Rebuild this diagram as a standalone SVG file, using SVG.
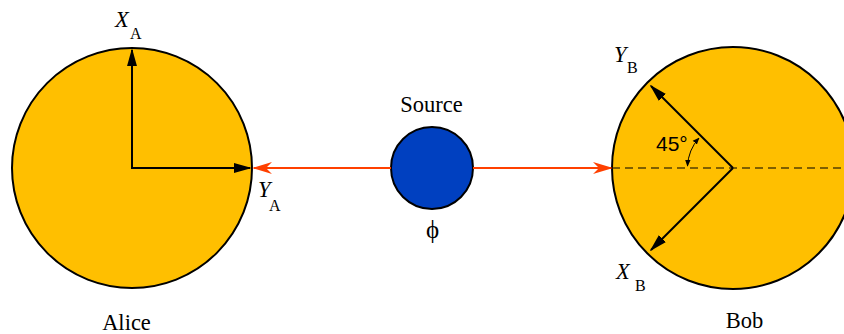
<svg xmlns="http://www.w3.org/2000/svg" width="844" height="334" viewBox="0 0 844 334">
<defs>
<style>
.disk{fill:#FFBF00;stroke:#000;stroke-width:2}
.ax{stroke:#000;stroke-width:2;fill:none}
.beam{stroke:#FF4000;stroke-width:2;fill:none}
text{font-family:'Liberation Serif','Times New Roman',serif;font-size:22.5px;fill:#000}
.i{font-style:italic}
.s{font-size:16px}
.sans{font-family:'Liberation Sans',Arial,sans-serif;font-size:21px}
</style>
<marker id="ah" viewBox="0 0 10 10" refX="9" refY="5" markerWidth="18" markerHeight="10" markerUnits="userSpaceOnUse" orient="auto" preserveAspectRatio="none"><path d="M0,0 L10,5 L0,10 z" fill="#000"/></marker>
<marker id="ar" viewBox="0 0 10 10" refX="9" refY="5" markerWidth="20" markerHeight="12" markerUnits="userSpaceOnUse" orient="auto" preserveAspectRatio="none"><path d="M0,0 L10,5 L0,10 L3,5 z" fill="#FF4000"/></marker>
<marker id="sm" viewBox="0 0 10 10" refX="9" refY="5" markerWidth="7" markerHeight="7" markerUnits="userSpaceOnUse" orient="auto-start-reverse"><path d="M0,1 L10,5 L0,9 z" fill="#000"/></marker>
</defs>
<g id="alice">
<circle class="disk" cx="132" cy="168" r="120"/>
<line class="ax" x1="132" y1="169" x2="132" y2="50" marker-end="url(#ah)"/>
<line class="ax" x1="131" y1="168" x2="250" y2="168" marker-end="url(#ah)"/>
<text class="i" x="115" y="27">X</text>
<text class="s" x="130" y="39">A</text>
<text class="i" x="258" y="197">Y</text>
<text class="s" x="269" y="211">A</text>
<text x="126.5" y="329.5" text-anchor="middle">Alice</text>
</g>
<g id="bob">
<circle class="disk" cx="733" cy="168" r="121"/>
<line x1="612" y1="168" x2="844" y2="168" stroke="#000" stroke-opacity="0.5" stroke-width="2" stroke-dasharray="8,5"/>
<line class="ax" x1="733" y1="168" x2="651" y2="86" marker-end="url(#ah)"/>
<line class="ax" x1="733" y1="168" x2="651" y2="250" marker-end="url(#ah)"/>
<path d="M687.5,166 A45.5,45.5 0 0 1 699,138" fill="none" stroke="#000" stroke-width="1" marker-start="url(#sm)" marker-end="url(#sm)"/>
<text class="sans" x="656" y="151">45°</text>
<text class="i" x="614" y="62">Y</text>
<text class="s" x="627" y="73">B</text>
<text class="i" x="616" y="279">X</text>
<text class="s" x="635" y="291">B</text>
<text x="744.5" y="328" text-anchor="middle">Bob</text>
</g>
<g id="source">
<circle cx="432" cy="168" r="41" fill="#0040C0" stroke="#000" stroke-width="2"/>
<text x="431.5" y="111.5" text-anchor="middle">Source</text>
<text x="432.5" y="238" text-anchor="middle" style="font-size:25px">ϕ</text>
</g>
<g id="connectors">
<line class="beam" x1="391" y1="168" x2="254" y2="168" marker-end="url(#ar)"/>
<line class="beam" x1="473" y1="168" x2="611" y2="168" marker-end="url(#ar)"/>
</g>
</svg>
